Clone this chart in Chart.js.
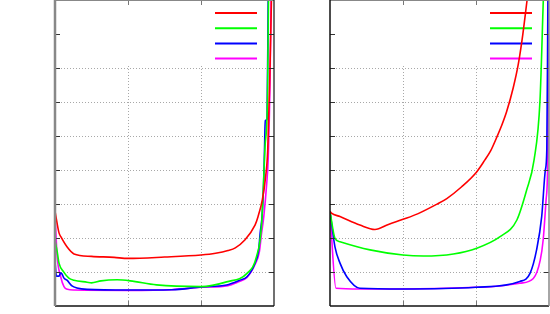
<!DOCTYPE html>
<html>
<head>
<meta charset="utf-8">
<script src="https://cdn.jsdelivr.net/npm/chart.js@4/dist/chart.umd.min.js"></script>
<style>
  html, body { margin: 0; padding: 0; background: #fff; }
  #wrap { position: relative; width: 550px; height: 314px; }
  .box { position: absolute; top: 0; height: 314px; }
</style>
</head>
<body>
<div id="wrap">
  <div class="box" style="left:0;width:276px"><canvas id="leftChart"></canvas></div>
  <div class="box" style="left:275px;width:275px"><canvas id="rightChart"></canvas></div>
</div>
<script>
// axes are in grid units: x 0..3, y 0..9 (tick labels are not shown in the picture)
const xTicks = [0, 1, 2, 3];
const yTicks = [0, 1, 2, 3, 4, 5, 6, 7, 8, 9];
const seriesColors = ['#ff0000', '#00ff00', '#0000ff', '#ff00ff'];

// left panel, [x, y]
const leftRed = [[0,2.79],[0.055,2.15],[0.082,2.03],[0.164,1.74],[0.26,1.53],[0.5,1.46],[0.81,1.43],[1.0,1.40],[1.5,1.44],[2.0,1.50],[2.2,1.55],[2.37,1.63],[2.47,1.71],[2.6,1.94],[2.74,2.38],[2.78,2.62],[2.84,3.12],[2.88,3.71],[2.914,4.59],[2.94,6.5],[2.965,9]];
const leftGreen = [[0,1.92],[0.03,1.6],[0.055,1.26],[0.123,0.99],[0.19,0.82],[0.26,0.76],[0.44,0.7],[0.5,0.68],[0.63,0.74],[0.85,0.77],[1.03,0.74],[1.39,0.62],[2.0,0.57],[2.35,0.71],[2.63,0.96],[2.76,1.45],[2.83,2.4],[2.877,4.68],[2.91,6.06],[2.925,9]];
const leftBlue = [[0,1.3],[0.02,0.88],[0.055,0.88],[0.078,0.98],[0.096,0.94],[0.123,0.82],[0.164,0.76],[0.233,0.59],[0.3,0.53],[0.44,0.49],[1.0,0.47],[1.6,0.48],[2.0,0.56],[2.35,0.62],[2.53,0.76],[2.63,0.86],[2.74,1.26],[2.79,1.65],[2.81,2.14],[2.836,2.63],[2.858,3.6],[2.87,4.6],[2.88,5.45],[2.905,5.5],[2.92,9]];
const leftMagenta = [[0,2.68],[0.03,1.45],[0.078,0.86],[0.123,0.57],[0.17,0.49],[0.26,0.47],[1.0,0.46],[1.6,0.48],[2.0,0.55],[2.37,0.6],[2.5,0.7],[2.63,0.84],[2.74,1.22],[2.8,1.6],[2.83,2.14],[2.86,2.63],[2.9,3.6],[2.92,4.3],[2.945,6.56],[2.96,9]];

// right panel, [x, y]
const rightRed = [[0,2.78],[0.02,2.73],[0.137,2.63],[0.41,2.38],[0.616,2.25],[0.8,2.4],[1.0,2.55],[1.2,2.71],[1.46,2.99],[1.6,3.16],[1.8,3.5],[2.0,3.92],[2.12,4.29],[2.2,4.56],[2.28,4.94],[2.35,5.3],[2.42,5.72],[2.51,6.42],[2.58,7.12],[2.64,7.97],[2.7,9]];
const rightGreen = [[0,2.78],[0.068,1.99],[0.137,1.89],[0.548,1.65],[1.0,1.5],[1.28,1.47],[1.69,1.53],[2.01,1.7],[2.33,2.04],[2.56,2.53],[2.694,3.41],[2.795,4.29],[2.877,6.06],[2.922,9]];
const rightBlue = [[0,2.78],[0.068,1.74],[0.137,1.26],[0.23,0.86],[0.41,0.52],[1.0,0.5],[2.0,0.55],[2.6,0.72],[2.74,0.96],[2.83,1.65],[2.9,2.63],[2.95,4.0],[2.97,4.6],[2.985,9]];
const rightMagenta = [[0,2.78],[0.082,0.52],[0.41,0.5],[1.0,0.5],[2.0,0.55],[2.33,0.59],[2.6,0.67],[2.785,0.81],[2.88,1.35],[2.92,1.94],[2.96,3.12],[2.985,4.59],[2.995,9]];

// frame, inward ticks, opaque key box
const framePlugin = {
  id: 'frame',
  beforeDatasetsDraw(chart, args, opts) {
    const { ctx, chartArea: a } = chart;
    ctx.save();
    ctx.fillStyle = '#fff';
    ctx.fillRect(a.left + 1, a.top, a.right - a.left - 2, 64);
    ctx.lineWidth = 2;
    chart.data.datasets.forEach((ds, i) => {
      const y = a.top + 13 + i * 15.2;
      ctx.strokeStyle = ds.borderColor;
      ctx.beginPath();
      ctx.moveTo(a.right - 59, y);
      ctx.lineTo(a.right - 17, y);
      ctx.stroke();
    });
    ctx.restore();
  },
  afterDraw(chart, args, opts) {
    const { ctx, chartArea: a, scales } = chart;
    ctx.save();
    // ticks
    ctx.lineWidth = 1;
    yTicks.slice(1, -1).forEach(v => {
      const y = Math.round(scales.y.getPixelForValue(v)) + 0.5;
      ctx.strokeStyle = '#333';
      ctx.beginPath(); ctx.moveTo(a.left, y); ctx.lineTo(a.left + 5, y); ctx.stroke();
      ctx.beginPath(); ctx.moveTo(a.right, y); ctx.lineTo(a.right - 5, y); ctx.stroke();
    });
    xTicks.slice(1, -1).forEach(v => {
      const x = Math.round(scales.x.getPixelForValue(v)) + 0.5;
      ctx.strokeStyle = '#777';
      ctx.beginPath(); ctx.moveTo(x, a.top); ctx.lineTo(x, a.top + 5); ctx.stroke();
      ctx.beginPath(); ctx.moveTo(x, a.bottom); ctx.lineTo(x, a.bottom - 5); ctx.stroke();
    });
    // borders
    const line = (x1, y1, x2, y2, c, w) => {
      ctx.strokeStyle = c; ctx.lineWidth = w;
      ctx.beginPath(); ctx.moveTo(x1, y1); ctx.lineTo(x2, y2); ctx.stroke();
    };
    line(a.left, a.top + 0.5, a.right, a.top + 0.5, '#888', 1);
    line(a.left, a.bottom, a.right, a.bottom, '#111', 1.5);
    line(a.left, a.top, a.left, a.bottom, opts.leftColor, opts.leftWidth);
    line(a.right, a.top, a.right, a.bottom, opts.rightColor, opts.rightWidth);
    ctx.restore();
  }
};

function makeChart(id, series, pad, frame) {
  return new Chart(document.getElementById(id), {
    type: 'line',
    data: {
      datasets: series.map((pts, i) => ({
        data: pts.map(p => ({ x: p[0], y: p[1] })),
        borderColor: seriesColors[i],
        borderWidth: 1.6,
        pointRadius: 0,
        cubicInterpolationMode: 'monotone',
        fill: false
      }))
    },
    options: {
      responsive: true,
      maintainAspectRatio: false,
      animation: false,
      layout: { padding: pad },
      plugins: { legend: { display: false }, tooltip: { enabled: false }, frame: frame },
      scales: {
        x: {
          type: 'linear', min: 0, max: 3,
          afterBuildTicks: s => { s.ticks = xTicks.map(v => ({ value: v })); },
          ticks: { display: false },
          grid: { drawTicks: false, color: c => (c.tick.value === 0 || c.tick.value === 3) ? 'rgba(0,0,0,0)' : '#a8a8a8' },
          border: { display: false, dash: [1, 2] }
        },
        y: {
          type: 'linear', min: 0, max: 9,
          afterBuildTicks: s => { s.ticks = yTicks.map(v => ({ value: v })); },
          ticks: { display: false },
          grid: { drawTicks: false, color: c => (c.tick.value === 0 || c.tick.value === 9) ? 'rgba(0,0,0,0)' : '#a8a8a8' },
          border: { display: false, dash: [1, 2] }
        }
      }
    },
    plugins: [framePlugin]
  });
}

makeChart('leftChart', [leftRed, leftGreen, leftBlue, leftMagenta],
  { left: 55, right: 2, top: 0, bottom: 8 },
  { leftColor: '#888', leftWidth: 2.5, rightColor: '#111', rightWidth: 1.2 });
makeChart('rightChart', [rightRed, rightGreen, rightBlue, rightMagenta],
  { left: 55, right: 1, top: 0, bottom: 8 },
  { leftColor: '#111', leftWidth: 1.5, rightColor: '#888', rightWidth: 1.5 });
</script>
</body>
</html>
